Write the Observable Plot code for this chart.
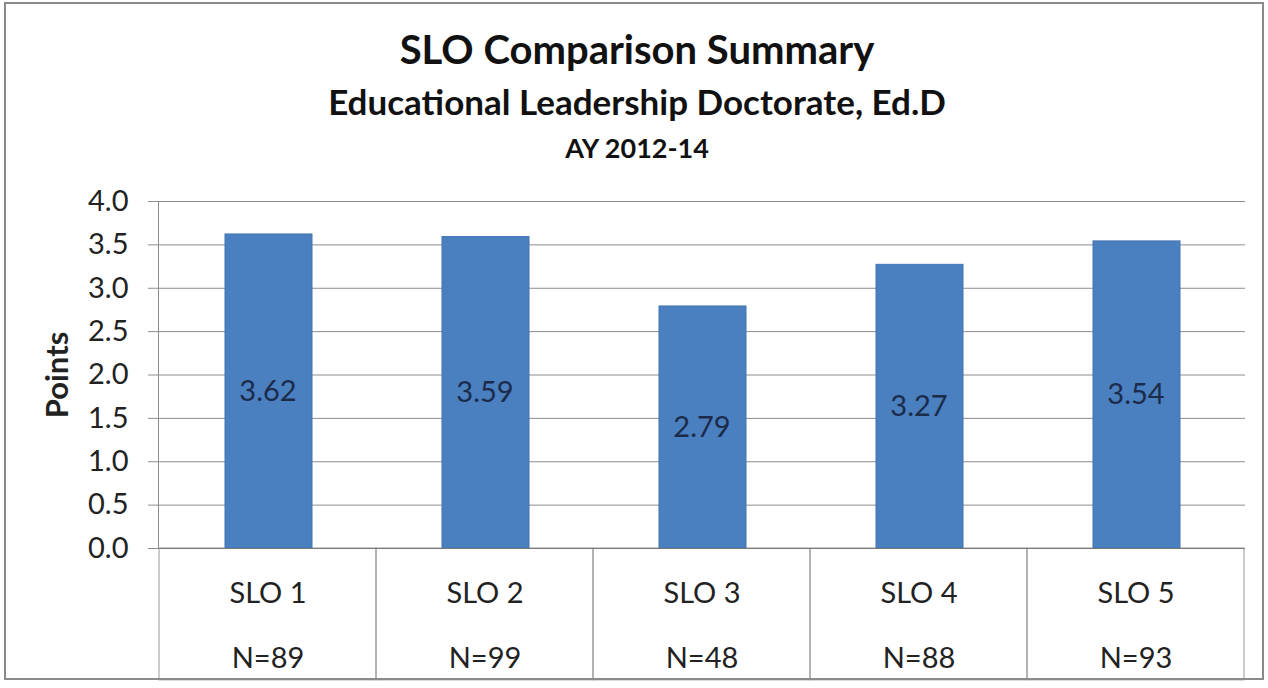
<!DOCTYPE html>
<html><head><meta charset="utf-8">
<script src="https://cdn.jsdelivr.net/npm/d3@7"></script>
<script src="https://cdn.jsdelivr.net/npm/@observablehq/plot@0.6"></script>
<style>
body{margin:0;background:#fff;font-family:Lato,"Open Sans",sans-serif;color:#111;}
#wrap{position:relative;width:1268px;height:688px;overflow:hidden;background:#fff}
#frame{position:absolute;left:4px;top:2px;width:1260px;height:678px;border:2px solid #8a8a8a;box-sizing:border-box;pointer-events:none}
#titles{position:relative;height:180px;font-weight:bold;}
#titles div{position:absolute;left:6px;width:1262px;text-align:center;white-space:nowrap;}
#t1{top:29px;font-size:40px;line-height:40px;}
#t2{top:84px;font-size:35px;line-height:35px;}
#t3{top:134px;font-size:27px;line-height:27px;}
g[aria-label="y-axis label"] text{font-weight:bold;font-size:31px;}
</style></head>
<body>
<div id="wrap">
<div id="titles"><div id="t1">SLO Comparison Summary</div><div id="t2">Educational Leadership Doctorate, Ed.D</div><div id="t3">AY 2012-14</div></div>
<div id="chart"></div>
<div id="frame"></div>
</div>
<script>
const slos = ["SLO 1", "SLO 2", "SLO 3", "SLO 4", "SLO 5"];
const values = [3.62, 3.59, 2.79, 3.27, 3.54];
const nLabels = ["N=89", "N=99", "N=48", "N=88", "N=93"];
const yTicks = [0, 0.5, 1, 1.5, 2, 2.5, 3, 3.5, 4];

const rows = slos.map((s, i) => ({slo: s, value: values[i], n: nLabels[i]}));

const plot = Plot.plot({
  width: 1268,
  height: 508,
  marginTop: 21,
  marginBottom: 140,
  marginLeft: 158,
  marginRight: 23,
  style: {fontFamily: "Lato, 'Open Sans', sans-serif", background: "transparent", overflow: "visible"},
  x: {domain: slos, padding: 0, label: null},
  y: {domain: [0, 4], label: null},
  marks: [
    Plot.ruleY(yTicks.slice(1), {stroke: "#8c8c8c", strokeWidth: 1}),
    Plot.barY(rows, {x: "slo", y1: 0, y2: -1.52, fill: "none", stroke: "#9a9a9a", strokeWidth: 1}),
    Plot.barY(rows, {x: "slo", y: "value", fill: "#4a7fc0", stroke: "#4274b3", strokeWidth: 1, insetLeft: 66, insetRight: 64}),
    Plot.text(rows, {x: "slo", y: d => d.value / 2, text: d => d.value.toFixed(2), fontSize: 29, fill: "#1c2b4a"}),
    Plot.ruleY([0], {stroke: "#7a7a7a", strokeWidth: 1.2}),
    Plot.frame({anchor: "left", stroke: "#8c8c8c"}),
    Plot.axisY({ticks: yTicks, tickFormat: d3.format(".1f"), tickSize: 10, tickPadding: 20, fontSize: 29, stroke: "#8c8c8c", color: "#222", label: "Points", labelArrow: "none", labelAnchor: "center", labelOffset: 113}),
    Plot.axisX({tickSize: 0, tickPadding: 34, fontSize: 29, color: "#222", label: null}),
    Plot.axisX({tickSize: 0, tickPadding: 99, fontSize: 29, color: "#222", label: null, tickFormat: d => nLabels[slos.indexOf(d)]})
  ]
});
document.getElementById("chart").appendChild(plot);
</script>
</body></html>
